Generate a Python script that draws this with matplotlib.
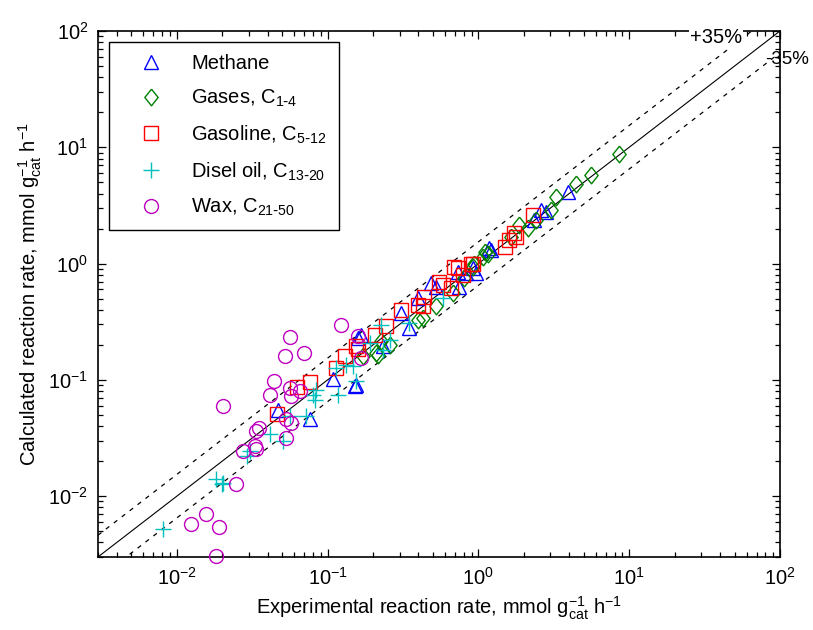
import matplotlib
matplotlib.use("Agg")
import matplotlib.pyplot as plt
import numpy as np

plt.rcParams['font.family'] = ['Liberation Sans', 'DejaVu Sans']
plt.rcParams['mathtext.default'] = 'regular'
plt.rcParams['font.size'] = 14.5

# data (experimental, calculated)
methane_x = [0.0469, 0.076, 0.108, 0.151, 0.155, 0.159, 0.167, 0.232, 0.308, 0.349, 0.396, 0.486,
             0.525, 0.73, 0.748, 0.83, 0.916, 0.966, 1.18, 1.21, 2.35, 2.60, 2.81, 3.90]
methane_y = [0.0556, 0.0457, 0.101, 0.0881, 0.0912, 0.229, 0.244, 0.194, 0.375, 0.279, 0.505, 0.678,
             0.634, 0.853, 0.634, 0.826, 0.912, 0.826, 1.35, 1.30, 2.37, 2.88, 2.79, 4.13]

gases_x = [0.171, 0.21, 0.215, 0.227, 0.258, 0.40, 0.428, 0.525, 0.676, 0.80, 0.916, 0.942, 1.07,
           1.10, 1.15, 1.65, 1.87, 2.12, 2.41, 3.03, 3.27, 4.43, 5.57, 8.59]
gases_y = [0.159, 0.170, 0.165, 0.214, 0.200, 0.33, 0.34, 0.428, 0.556, 0.75, 0.94, 1.0, 1.15,
           1.26, 1.22, 1.70, 2.14, 2.01, 2.37, 2.88, 3.74, 4.88, 5.74, 8.81]

gasoline_x = [0.0461, 0.0627, 0.0767, 0.114, 0.131, 0.155, 0.159, 0.205, 0.245, 0.308, 0.396, 0.426,
              0.438, 0.552, 0.58, 0.659, 0.693, 0.73, 0.787, 0.895, 0.916, 1.49, 1.60, 1.73, 1.78, 2.29]
gasoline_y = [0.0504, 0.0871, 0.0953, 0.127, 0.159, 0.194, 0.185, 0.244, 0.288, 0.40, 0.441, 0.428,
              0.52, 0.70, 0.656, 0.614, 0.94, 0.912, 0.80, 1.0, 1.0, 1.40, 1.59, 1.82, 1.70, 2.61]

diesel_x = [0.0081, 0.0183, 0.0203, 0.0198, 0.029, 0.0304, 0.0413, 0.0506, 0.056, 0.0723, 0.080, 0.082,
            0.0841, 0.114, 0.117, 0.133, 0.147, 0.155, 0.190, 0.227, 0.232, 0.258, 0.349, 0.581]
diesel_y = [0.0052, 0.014, 0.0131, 0.0127, 0.0221, 0.0244, 0.034, 0.0298, 0.0488, 0.0488, 0.0748, 0.0678,
            0.0826, 0.127, 0.0748, 0.135, 0.131, 0.0973, 0.207, 0.298, 0.182, 0.221, 0.308, 0.505]

wax_x = [0.0125, 0.0157, 0.0181, 0.0191, 0.0203, 0.0248, 0.0275, 0.0329, 0.0337, 0.0337, 0.0351, 0.0413,
         0.044, 0.0525, 0.0532, 0.0532, 0.056, 0.056, 0.0576, 0.0576, 0.0653, 0.0693, 0.123, 0.159, 0.167]
wax_y = [0.00575, 0.00701, 0.00304, 0.0054, 0.0594, 0.0127, 0.0244, 0.027, 0.0363, 0.0253, 0.0388, 0.0748,
         0.0973, 0.161, 0.0457, 0.0318, 0.233, 0.0853, 0.0723, 0.0429, 0.0798, 0.170, 0.298, 0.237, 0.155]

limits = [0.003, 100]
band = 0.65

fig = plt.figure(figsize=(8.13, 6.30), dpi=100)
ax = fig.add_axes([0.1205, 0.1159, 0.8389, 0.8349])

diamond = [(0, 1), (0.8, 0), (0, -1), (-0.8, 0), (0, 1)]

series = [
    (methane_x, methane_y, '^', (0, 0, 1), 10.5, 'Methane'),
    (gases_x, gases_y, diamond, (0, 0.5, 0), 12, r'Gases, C$_{1\text{-}4}$'),
    (gasoline_x, gasoline_y, 's', (1, 0, 0), 10, r'Gasoline, C$_{5\text{-}12}$'),
    (diesel_x, diesel_y, '+', (0, 0.75, 0.75), 11, r'Disel oil, C$_{13\text{-}20}$'),
    (wax_x, wax_y, 'o', (0.75, 0, 0.75), 10, r'Wax, C$_{21\text{-}50}$'),
]
for xs, ys, mk, col, ms, lab in series:
    ax.plot(xs, ys, linestyle='none', marker=mk, ms=ms, mfc='none', mec=col,
            mew=1.0, label=lab, clip_on=False, zorder=4)

xx = np.array(limits)
ax.plot(xx, xx, color='k', lw=0.8)
ax.plot(xx, xx / band, color='k', lw=0.9, linestyle=(0, (3.5, 4.5)))
ax.plot(xx, xx * band, color='k', lw=0.9, linestyle=(0, (3.5, 4.5)))

ax.set_xscale('log')
ax.set_yscale('log')
ax.set_xlim(limits)
ax.set_ylim(limits)

ax.tick_params(which='both', direction='in', top=True, right=True, labelsize=14.5)
ax.tick_params(which='major', length=5.5, width=0.9, pad=7)
ax.tick_params(which='minor', length=3.5, width=0.9)
for sp in ax.spines.values():
    sp.set_linewidth(1.2)

ax.set_xlabel(r'Experimental reaction rate, mmol g$_{cat}^{-1}$ h$^{-1}$', labelpad=4)
ax.set_ylabel(r'Calculated reaction rate, mmol g$_{cat}^{-1}$ h$^{-1}$', labelpad=3)

ax.text(0.868, 0.987, '+35%', transform=ax.transAxes, va='center', ha='left',
        fontsize=14.5, clip_on=False, zorder=5,
        bbox=dict(facecolor='white', edgecolor='none', pad=1))
ax.text(0.978, 0.945, '-35%', transform=ax.transAxes, va='center', ha='left',
        fontsize=13.5, clip_on=False, zorder=5)

leg = ax.legend(loc='upper left', bbox_to_anchor=(0.016, 0.979), borderaxespad=0,
                fontsize=14.5, handlelength=3.0, handletextpad=0.5, borderpad=0.6,
                labelspacing=0.72, fancybox=False, framealpha=1, edgecolor='k')
leg.get_frame().set_linewidth(1.0)

fig.savefig('out.png', dpi=100)
